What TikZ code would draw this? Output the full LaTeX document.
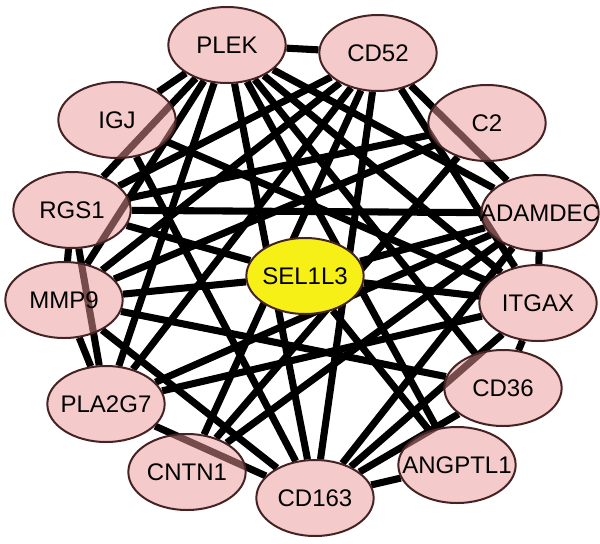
\documentclass[tikz,border=0pt]{standalone}
\usepackage{fontspec}
\setmainfont{Liberation Sans}
\usetikzlibrary{shapes.geometric}
\pgfdeclarelayer{bg}
\pgfsetlayers{bg,main}
\definecolor{genefill}{RGB}{235,150,150}
\definecolor{geneline}{RGB}{70,35,35}
\definecolor{hubfill}{RGB}{246,240,22}
\tikzset{
 gene/.style={ellipse, draw=geneline, line width=1.5pt, fill=genefill, fill opacity=0.5, draw opacity=1, minimum width=88pt, minimum height=57pt, inner sep=0pt},
 hub/.style={gene, fill=hubfill, fill opacity=1},
 lbl/.style={font=\fontsize{18}{18}\selectfont, text=black, text opacity=1, fill opacity=0},
 link/.style={line width=5.3pt, black},
}
\begin{document}
\begin{tikzpicture}[x=0.75pt,y=-0.75pt]
\useasboundingbox (0,0) rectangle (600,543);
\node[gene,label={[lbl]center:PLEK}] (P) at (227,45) {};
\node[gene,label={[lbl]center:CD52}] (D) at (378,53) {};
\node[gene,label={[lbl]center:C2}] (C2) at (487,123) {};
\node[gene,label={[lbl]center:ADAMDEC}] (A) at (540,213) {};
\node[gene,label={[lbl]center:ITGAX}] (I) at (538,303) {};
\node[gene,label={[lbl]center:CD36}] (C36) at (503,388) {};
\node[gene,label={[lbl]center:ANGPTL1}] (AN) at (457,465) {};
\node[gene,label={[lbl]center:CD163}] (C163) at (315,498) {};
\node[gene,label={[lbl]center:CNTN1}] (CN) at (187,472) {};
\node[gene,label={[lbl]center:PLA2G7}] (PL) at (106,404) {};
\node[gene,label={[lbl]center:MMP9}] (M) at (64,300) {};
\node[gene,label={[lbl]center:RGS1}] (R) at (72,210) {};
\node[gene,label={[lbl]center:IGJ}] (G) at (117,120) {};
\node[hub,label={[lbl]center:SEL1L3}] (S) at (305,276) {};
\begin{pgfonlayer}{bg}
\foreach \a/\b in {P/D,P/R,P/M,P/PL,P/C163,P/A,P/I,P/C36,P/AN,P/G,
  D/R,D/M,D/PL,D/CN,D/C163,D/A,D/I,
  R/A,R/M,R/PL,R/S,R/C2,
  M/PL,M/S,M/C163,M/C36,
  PL/C163,PL/A,PL/I,
  C2/CN,C2/M,CN/A,
  C163/AN,C163/C36,C163/I,C163/A,
  A/I,I/C36,G/I,S/I,S/A,S/AN,G/C163}
  \draw[link] (\a) -- (\b);
\end{pgfonlayer}
\end{tikzpicture}
\end{document}
